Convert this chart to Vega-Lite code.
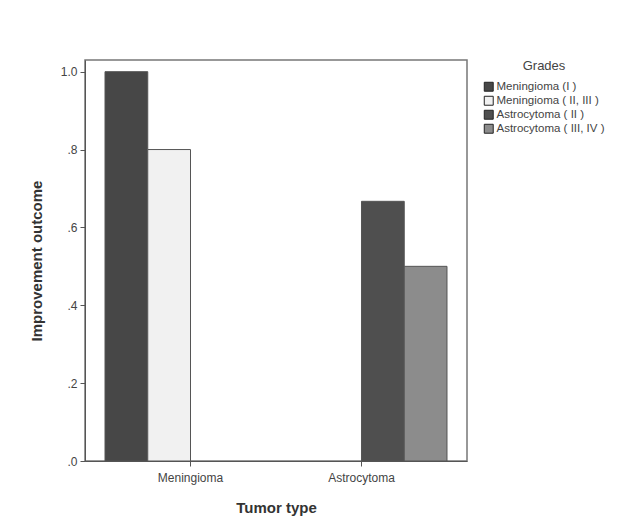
{
  "$schema": "https://vega.github.io/schema/vega-lite/v6.json",
  "width": 382,
  "height": 401,
  "autosize": {"type": "none"},
  "padding": {"left": 85, "top": 60, "right": 151, "bottom": 70},
  "background": "white",
  "data": {
    "values": [
      {"type": "Meningioma", "grade": "Meningioma (I )", "outcome": 1.0},
      {"type": "Meningioma", "grade": "Meningioma ( II, III )", "outcome": 0.8},
      {"type": "Astrocytoma", "grade": "Astrocytoma ( II )", "outcome": 0.667},
      {"type": "Astrocytoma", "grade": "Astrocytoma ( III, IV )", "outcome": 0.5}
    ]
  },
  "mark": {"type": "bar", "stroke": "#555", "strokeWidth": 1},
  "encoding": {
    "x": {
      "field": "type",
      "type": "nominal",
      "sort": ["Meningioma", "Astrocytoma"],
      "scale": {"paddingInner": 0, "paddingOuter": 0.117},
      "axis": {
        "title": "Tumor type",
        "labelAngle": 0,
        "labelFont": "Liberation Sans",
        "labelFontSize": 12,
        "labelColor": "#444",
        "labelPadding": 6,
        "titleFont": "Liberation Sans",
        "titleFontSize": 15,
        "titleFontWeight": "bold",
        "titleColor": "#333",
        "titlePadding": 17,
        "tickSize": 5,
        "tickColor": "#555",
        "domainColor": "#555"
      }
    },
    "xOffset": {
      "field": "grade",
      "type": "nominal",
      "sort": ["Meningioma (I )", "Meningioma ( II, III )", "Astrocytoma ( II )", "Astrocytoma ( III, IV )"],
      "scale": {"paddingInner": 0, "paddingOuter": 0}
    },
    "y": {
      "field": "outcome",
      "type": "quantitative",
      "scale": {"domain": [0, 1.03], "nice": false},
      "axis": {
        "title": "Improvement outcome",
        "values": [0, 0.2, 0.4, 0.6, 0.8, 1.0],
        "labelExpr": "datum.value >= 1 ? format(datum.value, '.1f') : substring(format(datum.value, '.1f'), 1)",
        "grid": false,
        "labelFont": "Liberation Sans",
        "labelFontSize": 12,
        "labelColor": "#444",
        "labelPadding": 3,
        "titleFont": "Liberation Sans",
        "titleFontSize": 15,
        "titleFontWeight": "bold",
        "titleColor": "#333",
        "titlePadding": 16,
        "tickSize": 5,
        "tickColor": "#555",
        "domainColor": "#555"
      }
    },
    "fill": {
      "field": "grade",
      "type": "nominal",
      "sort": ["Meningioma (I )", "Meningioma ( II, III )", "Astrocytoma ( II )", "Astrocytoma ( III, IV )"],
      "scale": {"range": ["#474747", "#f1f1f1", "#4f4f4f", "#8c8c8c"]},
      "legend": {
        "title": "Grades",
        "orient": "right",
        "offset": 16,
        "titleAnchor": "middle",
        "titleFont": "Liberation Sans",
        "titleFontSize": 13,
        "titleFontWeight": "normal",
        "titleColor": "#444",
        "titlePadding": 8,
        "labelFont": "Liberation Sans",
        "labelFontSize": 11.5,
        "labelColor": "#444",
        "labelOffset": 2,
        "symbolType": "square",
        "symbolSize": 80,
        "symbolStrokeColor": "#222",
        "symbolStrokeWidth": 1,
        "rowPadding": 0,
        "padding": 0
      }
    }
  },
  "config": {
    "view": {"stroke": "#777", "strokeWidth": 1.5}
  }
}
